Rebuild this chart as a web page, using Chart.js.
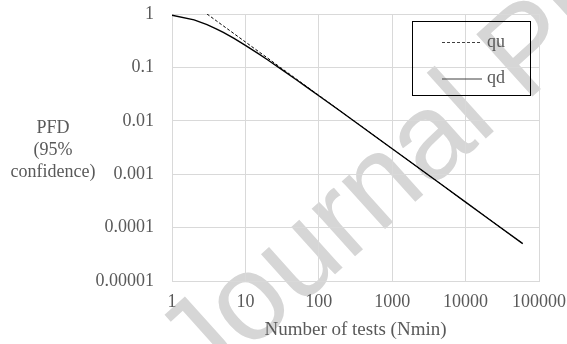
<!DOCTYPE html>
<html>
<head>
<meta charset="utf-8">
<script src="https://cdn.jsdelivr.net/npm/chart.js@4.4.0/dist/chart.umd.min.js"></script>
<style>
  body { margin: 0; background: #fff; }
  #wrap { position: relative; width: 567px; height: 344px; }
</style>
</head>
<body>
<div id="wrap"><canvas id="chart"></canvas></div>
<script>
// values
const quN = [3, 4, 5, 7, 10, 15, 20, 30, 50, 70, 100, 200, 500, 1000, 2000, 5000, 10000, 20000, 60000];
const quPFD = [1.0, 0.749, 0.599, 0.428, 0.2996, 0.1997, 0.15, 0.0999, 0.0599, 0.0428, 0.03, 0.015, 0.006, 0.003, 0.0015, 0.0006, 0.0003, 0.00015, 0.00005];

const qdN = [1, 2, 3, 4, 5, 7, 10, 15, 20, 30, 50, 70, 100, 200, 500, 1000, 2000, 5000, 10000, 20000, 60000];
const qdPFD = [0.95, 0.776, 0.632, 0.527, 0.451, 0.348, 0.259, 0.181, 0.139, 0.095, 0.058, 0.0419, 0.0295, 0.0149, 0.00597, 0.00299, 0.0015, 0.0006, 0.0003, 0.00015, 0.00005];

const xTicks = [1, 10, 100, 1000, 10000, 100000];
const xTickLabels = ["1", "10", "100", "1000", "10000", "100000"];
const yTicks = [0.00001, 0.0001, 0.001, 0.01, 0.1, 1];
const yTickLabels = ["0.00001", "0.0001", "0.001", "0.01", "0.1", "1"];

const yTitleLines = ["PFD", "(95%", "confidence)"];
const watermark = "Journal Pre-proof";

const serif = "'Liberation Serif', 'Times New Roman', serif";
const grey = "#595959";

const toPoints = (xs, ys) => xs.map((x, i) => ({ x: x, y: ys[i] }));

// faint watermark behind everything
const watermarkPlugin = {
  id: "watermark",
  beforeDraw(chart) {
    const ctx = chart.ctx;
    ctx.save();
    ctx.translate(433, 143); // roughly where the "a" sits
    ctx.rotate(-42 * Math.PI / 180);
    ctx.font = "122px 'Liberation Sans', Arial, sans-serif";
    ctx.fillStyle = "#d6d6d6";
    ctx.textAlign = "left";
    ctx.textBaseline = "alphabetic";
    ctx.fillText(watermark, -339, 32);
    ctx.restore();
  }
};

// horizontal y title + boxed legend like the excel one
const extrasPlugin = {
  id: "extras",
  afterDraw(chart) {
    const ctx = chart.ctx;
    ctx.save();
    ctx.font = "18px " + serif;
    ctx.fillStyle = grey;
    ctx.textAlign = "center";
    ctx.textBaseline = "middle";
    yTitleLines.forEach((t, i) => ctx.fillText(t, 53, 128 + i * 22));

    // legend
    ctx.strokeStyle = "#000";
    ctx.lineWidth = 1;
    ctx.strokeRect(412.5, 21.5, 118, 74);
    chart.data.datasets.forEach((ds, i) => {
      const y = 42 + i * 36.5;
      ctx.beginPath();
      ctx.setLineDash(ds.borderDash || []);
      ctx.strokeStyle = "#404040";
      ctx.lineWidth = 1;
      ctx.moveTo(442, y + 0.5);
      ctx.lineTo(482, y + 0.5);
      ctx.stroke();
      ctx.setLineDash([]);
      ctx.textAlign = "left";
      ctx.fillStyle = grey;
      ctx.fillText(ds.label, 487, y);
    });
    ctx.restore();
  }
};

new Chart(document.getElementById("chart"), {
  type: "scatter",
  data: {
    datasets: [
      {
        label: "qu",
        data: toPoints(quN, quPFD),
        showLine: true,
        borderColor: "#000",
        borderWidth: 1,
        borderDash: [3, 2],
        pointRadius: 0,
        tension: 0
      },
      {
        label: "qd",
        data: toPoints(qdN, qdPFD),
        showLine: true,
        borderColor: "#000",
        borderWidth: 1.4,
        pointRadius: 0,
        tension: 0
      }
    ]
  },
  options: {
    responsive: true,
    maintainAspectRatio: false,
    animation: false,
    layout: { padding: { top: 14, right: 28, left: 0, bottom: 0 } },
    plugins: {
      legend: { display: false },
      tooltip: { enabled: false }
    },
    scales: {
      x: {
        type: "logarithmic",
        min: 1,
        max: 100000,
        afterBuildTicks: (s) => { s.ticks = xTicks.map(v => ({ value: v })); },
        afterFit: (s) => {
          s.height = 63;
          s.paddingLeft = 0;
          s.paddingRight = 0;
        },
        grid: { color: "#d9d9d9", drawTicks: false },
        border: { color: "#d9d9d9" },
        ticks: {
          padding: 10,
          color: grey,
          font: { family: serif, size: 18 },
          maxRotation: 0,
          autoSkip: false,
          callback: (v, i) => xTickLabels[i]
        },
        title: {
          display: true,
          text: "Number of tests (Nmin)",
          color: grey,
          font: { family: serif, size: 19 },
          padding: { top: 0, bottom: 3 }
        }
      },
      y: {
        type: "logarithmic",
        min: 0.00001,
        max: 1,
        afterBuildTicks: (s) => { s.ticks = yTicks.map(v => ({ value: v })); },
        afterFit: (s) => {
          s.width = 172;
          s.paddingTop = 0;
          s.paddingBottom = 0;
        },
        grid: { color: "#d9d9d9", drawTicks: false },
        border: { color: "#d9d9d9" },
        ticks: {
          padding: 18,
          color: grey,
          font: { family: serif, size: 18 },
          autoSkip: false,
          callback: (v, i) => yTickLabels[i]
        }
      }
    }
  },
  plugins: [watermarkPlugin, extrasPlugin]
});
</script>
</body>
</html>
